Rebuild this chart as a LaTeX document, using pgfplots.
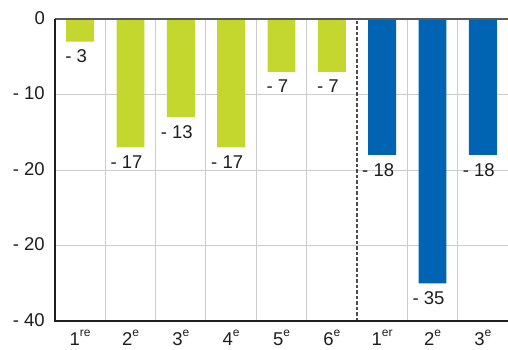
\documentclass[border=0pt]{standalone}
\usepackage{pgfplots}
\pgfplotsset{compat=1.18}
\usepackage{fontspec}
\setmainfont{Liberation Sans}
\definecolor{bargreen}{RGB}{196,215,46}
\definecolor{barblue}{RGB}{0,100,178}
\definecolor{gridgray}{RGB}{204,204,204}
\definecolor{txt}{RGB}{30,30,30}
% ordinal with raised suffix, e.g. 1re, 2e
\newcommand\ord[2]{#1\raisebox{0.5em}{\fontsize{12}{13}\selectfont #2}}
\newcommand\lblfont{\fontsize{18.5}{21}\selectfont}

\begin{document}
\begin{tikzpicture}
\path[use as bounding box] (-55pt,-28pt) rectangle (453pt,321pt);
\begin{axis}[
  at={(0,0)}, anchor=south west,
  scale only axis, width=453pt, height=302pt,
  xmin=-0.5, xmax=8.5, ymin=-40, ymax=0,
  clip=false,
  axis line style={draw=none},
  tick style={draw=none}, major tick length=0pt, minor tick length=0pt,
  xtick={0,...,8},
  xticklabels={\ord{1}{re},\ord{2}{e},\ord{3}{e},\ord{4}{e},\ord{5}{e},\ord{6}{e},\ord{1}{er},\ord{2}{e},\ord{3}{e}},
  minor xtick={0.5,1.5,2.5,3.5,4.5,6.5,7.5},
  xminorgrids,
  minor grid style={gridgray, line width=1pt},
  ytick={-40,-30,-20,-10,0},
  yticklabels={- 40,- 20,- 20,- 10,0},
  ymajorgrids,
  major grid style={gridgray, line width=1pt},
  ticklabel style={font=\lblfont, text=txt},
  yticklabel style={anchor=east, inner sep=0pt, xshift=-10pt, yshift=1pt},
  xticklabel style={anchor=base, inner sep=0pt, yshift=-24.5pt},
  every node near coord/.append style={font=\lblfont, text=txt, anchor=north, inner sep=0pt, yshift=-8pt, xshift=-4pt},
]
% first group
\addplot[ybar, bar width=0.556, bar shift=0pt, fill=bargreen, draw=none,
  point meta=explicit symbolic, nodes near coords]
  coordinates {(0,-3) [- 3] (1,-17) [- 17] (2,-13) [- 13] (3,-17) [- 17] (4,-7) [- 7] (5,-7) [- 7]};
% second group
\addplot[ybar, bar width=0.556, bar shift=0pt, fill=barblue, draw=none,
  point meta=explicit symbolic, nodes near coords]
  coordinates {(6,-18) [- 18] (7,-35) [- 35] (8,-18) [- 18]};
% group separator
\draw[line width=1.3pt, black!70, dash pattern=on 3.5pt off 2pt] (axis cs:5.5,-40) -- (axis cs:5.5,0);
% frame
\draw[line width=1pt, gridgray] (rel axis cs:1,0) -- (rel axis cs:1,1);
\draw[line width=1.6pt, black!65] (rel axis cs:0,1) -- (rel axis cs:1,1);
\draw[line width=1.3pt, txt] (rel axis cs:0,1) -- (rel axis cs:0,0) -- (rel axis cs:1,0);
\end{axis}
\end{tikzpicture}
\end{document}
